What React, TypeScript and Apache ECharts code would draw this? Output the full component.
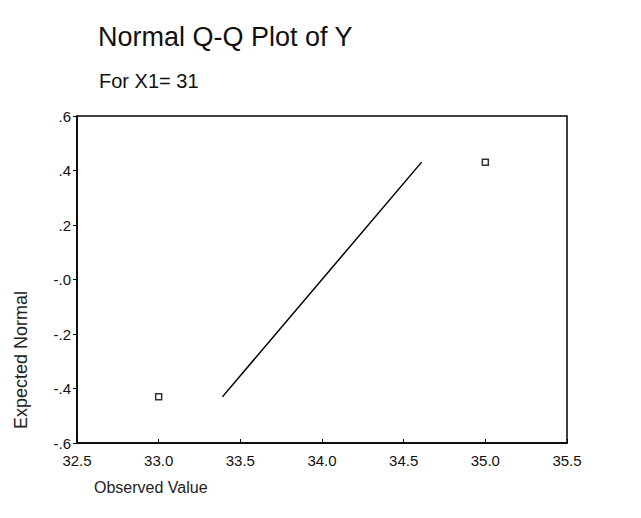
import React, { useEffect, useRef } from "react";
import * as echarts from "echarts";

const observed = [33.0, 35.0];
const expected = [-0.4307, 0.4307];
const lineX = [33.39, 34.61];
const lineY = [-0.4307, 0.4307];
const yTickLabels: Record<string, string> = {
  "0.6": ".6",
  "0.4": ".4",
  "0.2": ".2",
  "0": "-.0",
  "-0.2": "-.2",
  "-0.4": "-.4",
  "-0.6": "-.6",
};

export default function App() {
  const ref = useRef<HTMLDivElement>(null);
  useEffect(() => {
    if (!ref.current) return;
    const chart = echarts.init(ref.current, undefined, { renderer: "svg" });
    const font = "'Liberation Sans', Arial, sans-serif";
    chart.setOption({
      animation: false,
      backgroundColor: "#fff",
      textStyle: { fontFamily: font, color: "#000" },
      title: [
        {
          text: "Normal Q-Q Plot of Y",
          left: 93,
          top: 18,
          textStyle: { fontFamily: font, fontSize: 27, fontWeight: "normal", color: "#111" },
        },
        {
          text: "For X1= 31",
          left: 94,
          top: 66,
          textStyle: { fontFamily: font, fontSize: 20, fontWeight: "normal", color: "#111" },
        },
      ],
      grid: {
        left: 77,
        right: 74,
        top: 116,
        bottom: 75,
        show: true,
        borderColor: "#000",
        borderWidth: 1.5,
        backgroundColor: "#fff",
      },
      xAxis: {
        type: "value",
        min: 32.5,
        max: 35.5,
        interval: 0.5,
        axisLine: { onZero: false, lineStyle: { color: "#000", width: 1.5 } },
        axisTick: { show: true, inside: true, length: 4, lineStyle: { color: "#000" } },
        splitLine: { show: false },
        axisLabel: {
          color: "#111",
          fontSize: 15,
          margin: 10,
          formatter: (v: number) => v.toFixed(1),
        },
      },
      yAxis: {
        type: "value",
        min: -0.6,
        max: 0.6,
        interval: 0.2,
        axisLine: { onZero: false, lineStyle: { color: "#000", width: 1.5 } },
        axisTick: { show: true, length: 4, lineStyle: { color: "#000" } },
        splitLine: { show: false },
        axisLabel: {
          color: "#111",
          fontSize: 15,
          margin: 6,
          formatter: (v: number) => {
            const k = String(Math.round(v * 10) / 10);
            return yTickLabels[k] ?? k;
          },
        },
      },
      graphic: [
        {
          type: "text",
          x: 21,
          y: 360,
          rotation: Math.PI / 2,
          style: {
            text: "Expected Normal",
            fontFamily: font,
            fontSize: 18,
            fill: "#222",
            align: "center",
            verticalAlign: "middle",
          },
        },
        {
          type: "text",
          x: 94,
          y: 487,
          style: {
            text: "Observed Value",
            fontFamily: font,
            fontSize: 16,
            fill: "#222",
            align: "left",
            verticalAlign: "middle",
          },
        },
      ],
      series: [
        {
          type: "line",
          data: lineX.map((x, i) => [x, lineY[i]]),
          symbol: "none",
          lineStyle: { color: "#000", width: 1.5 },
        },
        {
          type: "scatter",
          data: observed.map((x, i) => [x, expected[i]]),
          symbol: "rect",
          symbolSize: 6,
          itemStyle: { color: "#fff", borderColor: "#000", borderWidth: 1.5 },
        },
      ],
    });
    return () => chart.dispose();
  }, []);
  return (
    <div
      ref={ref}
      style={{ position: "fixed", left: 0, top: 0, width: 641, height: 518, background: "#fff" }}
    />
  );
}
